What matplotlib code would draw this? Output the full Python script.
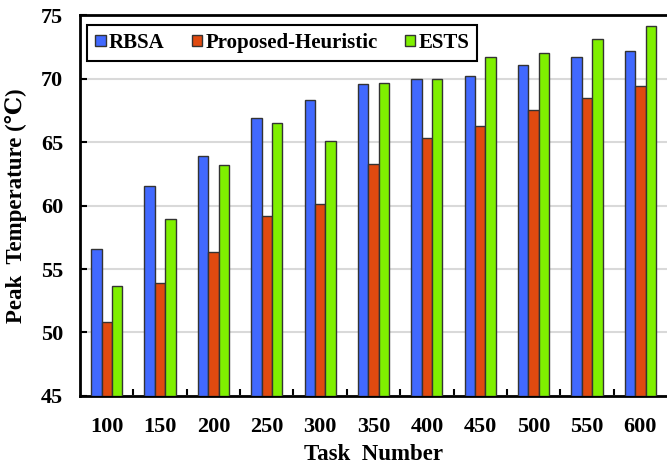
import matplotlib
matplotlib.use('Agg')
import matplotlib.pyplot as plt
import numpy as np

tasks = ['100', '150', '200', '250', '300', '350', '400', '450', '500', '550', '600']
rbsa = [56.6, 61.5, 63.9, 66.9, 68.3, 69.6, 69.95, 70.2, 71.1, 71.7, 72.2]
heuristic = [50.85, 53.9, 56.3, 59.2, 60.1, 63.3, 65.3, 66.3, 67.5, 68.5, 69.4]
ests = [53.7, 58.9, 63.2, 66.5, 65.1, 69.65, 70.0, 71.7, 72.0, 73.1, 74.1]

series = [('RBSA', rbsa, '#4169FF'),
          ('Proposed-Heuristic', heuristic, '#E04A10'),
          ('ESTS', ests, '#7FF000')]

plt.rcParams['font.family'] = ['Liberation Serif', 'DejaVu Serif']
plt.rcParams['font.weight'] = 'bold'

fig = plt.figure(figsize=(6.67, 4.65), dpi=100)
ax = fig.add_axes([0.12, 0.1484, 0.88, 0.8193])

x = np.arange(len(tasks))
w = 0.195
for i, (name, vals, color) in enumerate(series):
    ax.bar(x + (i - 1) * w, np.array(vals) - 45, bottom=45, width=w, color=color,
           edgecolor='#333333', linewidth=1.0, label=name, zorder=3)

ax.set_xlim(-0.5, len(tasks) - 0.5)
ax.set_ylim(45, 75)
ax.set_yticks([45, 50, 55, 60, 65, 70, 75])
ax.yaxis.grid(True, color='#d9d9d9', linewidth=1.5, zorder=0)
ax.set_axisbelow(True)

ax.set_xticks(x)
ax.set_xticklabels(tasks)
ax.set_xticks(x[:-1] + 0.5, minor=True)
ax.tick_params(axis='x', which='major', length=0, pad=15, labelsize=16)
ax.tick_params(axis='x', which='minor', direction='in', length=5, width=1.5)
ax.tick_params(axis='y', direction='in', length=5, width=1.5, pad=12, labelsize=16)

for s in ['left', 'bottom', 'top']:
    ax.spines[s].set_linewidth(2)
ax.spines['right'].set_visible(False)

ax.set_xlabel('Task  Number', fontsize=16.5, fontweight='bold', labelpad=5)
ax.set_ylabel('Peak  Temperature (\u2103)', fontsize=16.5, fontweight='bold', labelpad=10)

leg = ax.legend(loc='upper left', bbox_to_anchor=(0.012, 0.975), ncol=3, fontsize=15,
                frameon=True, fancybox=False, handlelength=0.5, handleheight=0.5,
                handletextpad=0.15, columnspacing=1.3, borderpad=0.4, borderaxespad=0)
leg.get_frame().set_edgecolor('black')
leg.get_frame().set_linewidth(1.5)
leg.get_frame().set_alpha(1)

plt.savefig('out.png', dpi=100)
plt.close(fig)
